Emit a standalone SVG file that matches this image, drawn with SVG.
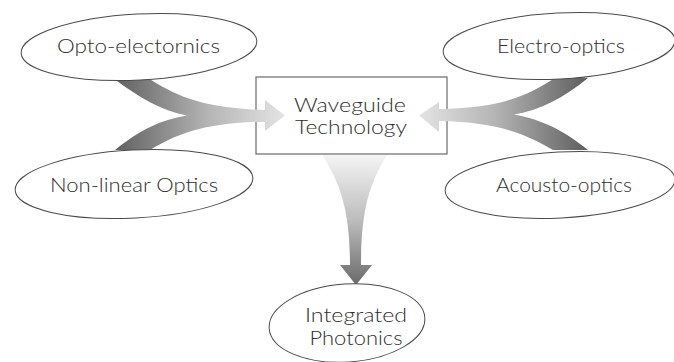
<svg xmlns="http://www.w3.org/2000/svg" width="674" height="362" viewBox="0 0 674 362">
<style>
.node ellipse{fill:#fff;stroke:#4a4a4a;stroke-width:1}
.node rect{fill:#fff;stroke:#6a6a6a;stroke-width:1.2}
.t{font-family:"Lato","Open Sans","Liberation Sans",sans-serif;font-weight:300;font-size:19px;fill:#2e2e2e;text-anchor:middle}
.tb{font-size:20px}
</style>
<defs>
<linearGradient id="gl" gradientUnits="userSpaceOnUse" x1="113" y1="0" x2="285" y2="0">
<stop offset="0" stop-color="#5e5e5e"/><stop offset="0.55" stop-color="#b4b4b4"/><stop offset="1" stop-color="#e4e4e4"/>
</linearGradient>
<linearGradient id="gr" gradientUnits="userSpaceOnUse" x1="588" y1="0" x2="419" y2="0">
<stop offset="0" stop-color="#5e5e5e"/><stop offset="0.55" stop-color="#b4b4b4"/><stop offset="1" stop-color="#e4e4e4"/>
</linearGradient>
<linearGradient id="gd" gradientUnits="userSpaceOnUse" x1="0" y1="155" x2="0" y2="285">
<stop offset="0" stop-color="#f4f4f4"/><stop offset="0.5" stop-color="#bdbdbd"/><stop offset="1" stop-color="#6a6a6a"/>
</linearGradient>
</defs>
<g id="waveguide" class="node">
<rect x="256" y="77" width="191" height="77"/>
<text class="t tb" x="350" y="112" textLength="112" lengthAdjust="spacingAndGlyphs">Waveguide</text>
<text class="t tb" x="351" y="134" textLength="112" lengthAdjust="spacingAndGlyphs">Technology</text>
</g>
<g id="connectors">
<path d="M113,78 L148,78 C175,95 200,108 265,110 L265,100 L285,115.5 L265,131 L265,122 C205,122 175,135 150,150 L115,150 C140,130 160,120 187,115.5 C160,110 140,98 113,78 Z" fill="url(#gl)"/>
<path d="M588,78 L555,78 C528,95 503,108 439,109 L439,102 L419,115.5 L439,132 L439,121 C499,122 528,135 553,150 L588,150 C563,130 543,120 514,114.5 C541,110 563,98 588,78 Z" fill="url(#gr)"/>
<path d="M322,155 L387,155 C368,185 361,215 361,265 L372,265 L356,285 L340,265 L350,265 C350,215 342,185 322,155 Z" fill="url(#gd)"/>
</g>
<g id="opto" class="node">
<ellipse cx="139" cy="47" rx="118" ry="33" transform="rotate(-3 139 47)"/>
<text class="t" x="138.5" y="53" textLength="163" lengthAdjust="spacingAndGlyphs">Opto-electornics</text>
</g>
<g id="electro" class="node">
<ellipse cx="559" cy="46" rx="116" ry="33" transform="rotate(-3 559 46)"/>
<text class="t" x="561" y="53" textLength="128" lengthAdjust="spacingAndGlyphs">Electro-optics</text>
</g>
<g id="nonlinear" class="node">
<ellipse cx="134" cy="184" rx="119" ry="34" transform="rotate(-3 134 184)"/>
<text class="t" x="134" y="192" textLength="168" lengthAdjust="spacingAndGlyphs">Non-linear Optics</text>
</g>
<g id="acousto" class="node">
<ellipse cx="560" cy="185" rx="115" ry="33" transform="rotate(-3 560 185)"/>
<text class="t" x="564" y="192" textLength="136" lengthAdjust="spacingAndGlyphs">Acousto-optics</text>
</g>
<g id="integrated" class="node">
<ellipse cx="347" cy="323" rx="78" ry="39" transform="rotate(-4 347 323)"/>
<text class="t" x="356" y="322" textLength="102" lengthAdjust="spacingAndGlyphs">Integrated</text>
<text class="t" x="356" y="345" textLength="93" lengthAdjust="spacingAndGlyphs">Photonics</text>
</g>
</svg>
